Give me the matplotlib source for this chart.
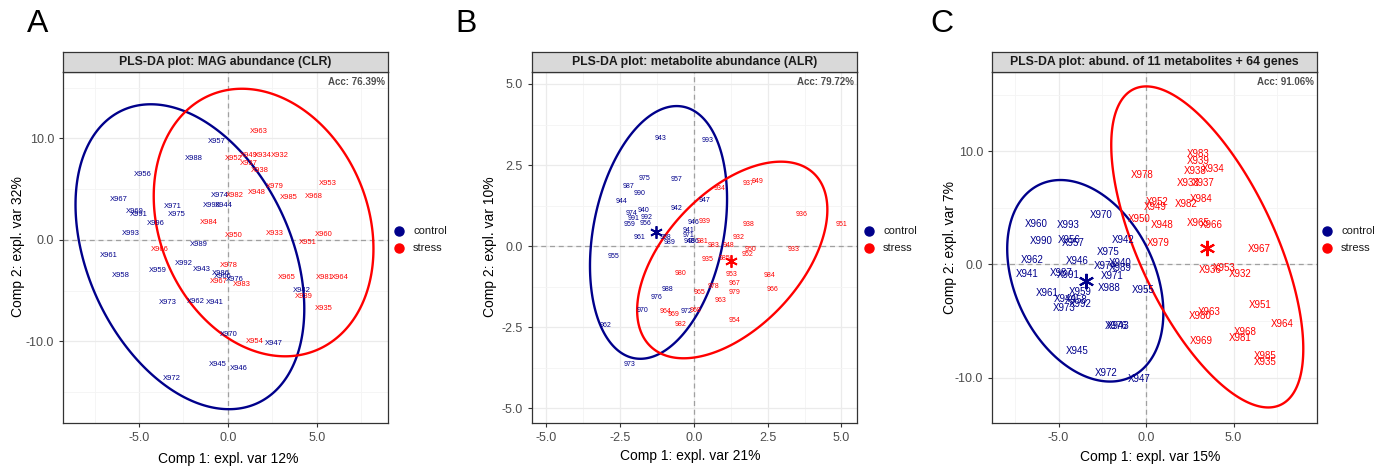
import numpy as np
import matplotlib
matplotlib.use('Agg')
import matplotlib.pyplot as plt
import matplotlib.ticker as ticker
import matplotlib.patches as mpatches
from matplotlib.lines import Line2D

plt.rcParams['font.family'] = ['Liberation Sans', 'DejaVu Sans']

ctrl_c = '#00008B'
str_c = '#FF0000'

##===========================================
# Panel A: MAG abundance (CLR)
##===========================================
a_ctrl_lab = ['X957', 'X988', 'X956', 'X967', 'X969', 'X991', 'X971', 'X975', 'X996', 'X993',
              'X974', 'X990', 'X944', 'X989', 'X961', 'X992', 'X943', 'X958', 'X959', 'X986',
              'X966', 'X976', 'X962', 'X941', 'X973', 'X970', 'X947', 'X945', 'X946', 'X972', 'X942']
a_ctrl_x = [-0.63, -1.95, -4.81, -6.16, -5.22, -5.04, -3.13, -2.88, -4.06, -5.47,
            -0.49, -0.92, -0.26, -1.67, -6.72, -2.51, -1.48, -6.03, -3.97, -0.40,
            -0.30, 0.39, -1.80, -0.73, -3.41, 0.06, 2.55, -0.60, 0.62, -3.16, 4.14]
a_ctrl_y = [9.75, 7.98, 6.5, 3.94, 2.79, 2.56, 3.28, 2.56, 1.67, 0.62,
            4.43, 3.35, 3.35, -0.49, -1.54, -2.36, -2.86, -3.45, -3.05, -3.30,
            -3.60, -3.94, -6.08, -6.18, -6.14, -9.29, -10.18, -12.3, -12.7, -13.6, -4.99]
a_str_lab = ['X963', 'X952', 'X949', 'X934', 'X932', 'X937', 'X938', 'X979', 'X948', 'X985',
             'X953', 'X968', 'X982', 'X984', 'X950', 'X933', 'X951', 'X960', 'X966', 'X978',
             'X967', 'X983', 'X965', 'X981', 'X964', 'X939', 'X935', 'X954']
a_str_x = [1.74, 0.30, 1.14, 1.98, 2.92, 1.14, 1.76, 2.60, 1.61, 3.44,
           5.60, 4.83, 0.39, -1.07, 0.34, 2.64, 4.51, 5.36, -3.82, 0.02,
           -0.54, 0.77, 3.30, 5.45, 6.29, 4.23, 5.39, 1.52]
a_str_y = [10.67, 7.98, 8.37, 8.31, 8.31, 7.49, 6.83, 5.25, 4.70, 4.21,
           5.52, 4.27, 4.43, 1.74, 0.49, 0.66, -0.23, 0.56, -0.98, -2.56,
           -4.1, -4.43, -3.68, -3.68, -3.71, -5.52, -6.73, -10.0]
# ellipse: centre, cov (xx, xy, yy)
a_ell_ctrl = ((-2.14, -1.65), (41.3, -33.0, 225.6))
a_ell_str = ((2.0, 1.72), (38.1, -16.0, 173.7))

##===========================================
# Panel B: metabolite abundance (ALR)
##===========================================
b_ctrl_lab = ['943', '993', '975', '957', '987', '990', '944', '947', '940', '942',
              '974', '991', '992', '959', '956', '946', '941', '961', '958', '971',
              '989', '945', '986', '955', '988', '976', '970', '972', '962', '973']
b_ctrl_x = [-1.12, 0.46, -1.68, -0.58, -2.23, -1.83, -2.45, 0.37, -1.72, -0.59,
            -2.11, -2.03, -1.60, -2.17, -1.64, -0.02, -0.19, -1.86, -0.98, -0.19,
            -0.81, -0.15, 0.0, -2.74, -0.90, -1.27, -1.75, -0.25, -2.98, -2.19]
b_ctrl_y = [3.32, 3.25, 2.09, 2.04, 1.85, 1.63, 1.37, 1.39, 1.11, 1.16,
            0.99, 0.85, 0.89, 0.68, 0.70, 0.73, 0.49, 0.27, 0.26, 0.32,
            0.10, 0.13, 0.13, -0.33, -1.33, -1.58, -1.98, -2.03, -2.44, -3.67]
b_str_lab = ['934', '937', '949', '936', '951', '939', '938', '932', '981', '983',
             '948', '950', '933', '952', '935', '985', '980', '953', '984', '967',
             '966', '978', '979', '965', '963', '964', '969', '968', '982', '954']
b_str_x = [0.88, 1.84, 2.16, 3.65, 5.0, 0.37, 1.84, 1.53, 0.28, 0.65,
           1.16, 1.93, 3.37, 1.81, 0.45, 1.05, -0.44, 1.28, 2.58, 1.36,
           2.65, 0.65, 1.39, 0.18, 0.92, -0.98, -0.70, 0.06, -0.44, 1.36]
b_str_y = [1.78, 1.94, 1.98, 0.98, 0.67, 0.75, 0.67, 0.26, 0.15, 0.01,
           0.01, -0.10, -0.10, -0.26, -0.41, -0.38, -0.84, -0.87, -0.92, -1.15,
           -1.33, -1.26, -1.44, -1.44, -1.69, -2.03, -2.10, -1.98, -2.41, -2.31]
b_ell_ctrl = ((-1.2, 0.42), (5.4, 2.4, 15.2))
b_ell_str = ((1.3, -0.43), (10.4, 5.0, 9.2))
b_cent_ctrl = (-1.27, 0.42)
b_cent_str = (1.25, -0.46)

##===========================================
# Panel C: 11 metabolites + 64 genes
##===========================================
c_ctrl_lab = ['X970', 'X960', 'X993', 'X990', 'X956', 'X957', 'X942', 'X975', 'X962', 'X946',
              'X974', 'X940', 'X989', 'X941', 'X987', 'X991', 'X971', 'X988', 'X955', 'X961',
              'X959', 'X944', 'X958', 'X992', 'X973', 'X976', 'X943', 'X945', 'X972', 'X947']
c_ctrl_x = [-2.57, -6.25, -4.47, -5.96, -4.40, -4.19, -1.30, -2.15, -6.53, -3.92,
            -2.34, -1.49, -1.45, -6.78, -4.86, -4.44, -1.96, -2.11, -0.15, -5.62,
            -3.77, -4.63, -4.0, -3.77, -4.69, -1.71, -1.60, -3.96, -2.29, -0.40]
c_ctrl_y = [4.41, 3.55, 3.49, 2.07, 2.13, 1.92, 2.13, 1.09, 0.44, 0.29,
            -0.09, 0.15, -0.33, -0.80, -0.74, -0.95, -1.04, -2.04, -2.28, -2.51,
            -2.40, -3.04, -3.1, -3.46, -3.84, -5.41, -5.41, -7.60, -9.55, -10.15]
c_str_lab = ['X983', 'X939', 'X938', 'X934', 'X978', 'X933', 'X937', 'X984', 'X952', 'X949',
             'X982', 'X950', 'X948', 'X965', 'X966', 'X979', 'X967', 'X953', 'X936', 'X932',
             'X951', 'X963', 'X980', 'X964', 'X968', 'X981', 'X969', 'X985', 'X935']
c_str_x = [2.99, 2.99, 2.80, 3.81, -0.21, 2.42, 3.27, 3.14, 0.61, 0.55,
           2.29, -0.38, 0.95, 2.99, 3.75, 0.70, 6.46, 4.47, 3.66, 5.37,
           6.55, 3.62, 3.12, 7.77, 5.66, 5.37, 3.18, 6.82, 6.82]
c_str_y = [9.76, 9.17, 8.28, 8.43, 7.90, 7.16, 7.21, 5.77, 5.56, 5.09,
           5.32, 4.05, 3.46, 3.70, 3.49, 1.89, 1.39, -0.29, -0.53, -0.80,
           -3.61, -4.23, -4.59, -5.26, -5.97, -6.51, -6.74, -8.05, -8.58]
c_ell_ctrl = ((-3.47, -1.44), (19.9, -12.6, 79.2))
c_ell_str = ((3.5, 1.55), (30.1, -49.4, 201.0))
c_cent_ctrl = (-3.45, -1.42)
c_cent_str = (3.5, 1.45)


##===========================================
# helpers
##===========================================
W, H = 1374, 466

def px_rect(x0, y0, x1, y1):
    # pixel box (top-left origin) -> figure fraction
    return [x0 / W, (H - y1) / H, (x1 - x0) / W, (y1 - y0) / H]

def draw_ellipse(ax, ell, color):
    (cx, cy), (sxx, sxy, syy) = ell
    L = np.linalg.cholesky(np.array([[sxx, sxy], [sxy, syy]]))
    t = np.linspace(0, 2 * np.pi, 300, endpoint=False)
    pts = L @ np.vstack([np.cos(t), np.sin(t)])
    poly = mpatches.Polygon(np.column_stack([cx + pts[0], cy + pts[1]]), closed=True,
                            fill=False, edgecolor=color, lw=1.7, joinstyle='round', zorder=3)
    ax.add_patch(poly)

def make_panel(box, title, acc, xlim, ylim, xmaj, xmin, ymaj, ymin, fmt):
    x0, y0, x1, y1 = box
    ax = fig.add_axes(px_rect(x0, y0, x1, y1))
    ax.set_xlim(xlim)
    ax.set_ylim(ylim)
    ax.xaxis.set_major_locator(ticker.MultipleLocator(xmaj))
    ax.xaxis.set_minor_locator(ticker.MultipleLocator(xmin))
    ax.yaxis.set_major_locator(ticker.MultipleLocator(ymaj))
    ax.yaxis.set_minor_locator(ticker.MultipleLocator(ymin))
    ax.xaxis.set_major_formatter(ticker.FormatStrFormatter(fmt))
    ax.yaxis.set_major_formatter(ticker.FormatStrFormatter(fmt))
    ax.grid(which='major', color='#EBEBEB', lw=0.9)
    ax.grid(which='minor', color='#F4F4F4', lw=0.6)
    ax.set_axisbelow(True)
    ax.tick_params(which='minor', length=0)
    ax.tick_params(which='major', length=3, color='#333333', labelcolor='#4D4D4D',
                   labelsize=9, width=0.8)
    for s in ax.spines.values():
        s.set_color('#333333')
        s.set_linewidth(0.9)
    ax.axhline(0, color='#A0A0A0', lw=0.9, ls=(0, (4, 3)), zorder=1)
    ax.axvline(0, color='#A0A0A0', lw=0.9, ls=(0, (4, 3)), zorder=1)
    ax.text(0.99, 0.985, 'Acc: ' + acc, transform=ax.transAxes, ha='right', va='top',
            fontsize=7, fontweight='bold', color='#4D4D4D')
    # strip
    st = fig.add_axes(px_rect(x0, 52, x1, y0))
    st.set_facecolor('#D9D9D9')
    st.set_xticks([])
    st.set_yticks([])
    for s in st.spines.values():
        s.set_color('#333333')
        s.set_linewidth(0.9)
    st.text(0.5, 0.5, title, ha='center', va='center', fontsize=8.8, fontweight='bold',
            transform=st.transAxes, color='#1A1A1A')
    return ax

def add_labels(ax, labs, xs, ys, color, fs):
    for lab, x, y in zip(labs, xs, ys):
        ax.text(x, y, lab, color=color, fontsize=fs, ha='center', va='center', zorder=4)

def add_legend(x, y):
    for i, (name, col) in enumerate([('control', ctrl_c), ('stress', str_c)]):
        yy = 1 - (y + 17 * i) / H
        fig.add_artist(Line2D([x / W], [yy], marker='o', ms=6.5, color=col, lw=0,
                              transform=fig.transFigure))
        fig.text((x + 14) / W, yy, name, fontsize=8, ha='left', va='center', color='#1A1A1A')


fig = plt.figure(figsize=(W / 100, H / 100), dpi=100)

#=======================================================
# A
#=======================================================
axA = make_panel((63, 72, 388, 423), 'PLS-DA plot: MAG abundance (CLR)', '76.39%',
                 (-9.27, 8.99), (-18.03, 16.55), 5, 2.5, 10, 5, '%.1f')
draw_ellipse(axA, a_ell_ctrl, ctrl_c)
draw_ellipse(axA, a_ell_str, str_c)
add_labels(axA, a_ctrl_lab, a_ctrl_x, a_ctrl_y, ctrl_c, 5.5)
add_labels(axA, a_str_lab, a_str_x, a_str_y, str_c, 5.5)
fig.text(228 / W, 1 - 459 / H, 'Comp 1: expl. var 12%', ha='center', va='center', fontsize=10)
fig.text(18 / W, 1 - 247 / H, 'Comp 2: expl. var 32%', ha='center', va='center', fontsize=10, rotation=90)
fig.text(38 / W, 1 - 24 / H, 'A', ha='center', va='center', fontsize=23)
add_legend(399, 231)

#=======================================================
# B
#=======================================================
axB = make_panel((532, 72, 857, 423), 'PLS-DA plot: metabolite abundance (ALR)', '79.72%',
                 (-5.49, 5.53), (-5.46, 5.37), 2.5, 1.25, 2.5, 1.25, '%.1f')
draw_ellipse(axB, b_ell_ctrl, ctrl_c)
draw_ellipse(axB, b_ell_str, str_c)
add_labels(axB, b_ctrl_lab, b_ctrl_x, b_ctrl_y, ctrl_c, 5)
add_labels(axB, b_str_lab, b_str_x, b_str_y, str_c, 5)
axB.plot(*b_cent_ctrl, marker=(6, 2, 0), ms=9, mew=1.3, color=ctrl_c, zorder=5)
axB.plot(*b_cent_str, marker=(6, 2, 0), ms=9, mew=1.3, color=str_c, zorder=5)
fig.text(690 / W, 1 - 456 / H, 'Comp 1: expl. var 21%', ha='center', va='center', fontsize=10)
fig.text(490 / W, 1 - 247 / H, 'Comp 2: expl. var 10%', ha='center', va='center', fontsize=10, rotation=90)
fig.text(466 / W, 1 - 24 / H, 'B', ha='center', va='center', fontsize=23)
add_legend(869, 231)

#=======================================================
# C
#=======================================================
axC = make_panel((992, 72, 1317, 423), 'PLS-DA plot: abund. of 11 metabolites + 64 genes', '91.06%',
                 (-8.8, 9.77), (-14.0, 17.0), 5, 2.5, 10, 5, '%.1f')
draw_ellipse(axC, c_ell_ctrl, ctrl_c)
draw_ellipse(axC, c_ell_str, str_c)
add_labels(axC, c_ctrl_lab, c_ctrl_x, c_ctrl_y, ctrl_c, 7)
add_labels(axC, c_str_lab, c_str_x, c_str_y, str_c, 7)
axC.plot(*c_cent_ctrl, marker=(6, 2, 0), ms=11, mew=1.5, color=ctrl_c, zorder=5)
axC.plot(*c_cent_str, marker=(6, 2, 0), ms=11, mew=1.5, color=str_c, zorder=5)
fig.text(1150 / W, 1 - 457 / H, 'Comp 1: expl. var 15%', ha='center', va='center', fontsize=10)
fig.text(950 / W, 1 - 247 / H, 'Comp 2: expl. var 7%', ha='center', va='center', fontsize=10, rotation=90)
fig.text(942 / W, 1 - 24 / H, 'C', ha='center', va='center', fontsize=23)
add_legend(1327, 231)

plt.savefig('out.png', dpi=100)
